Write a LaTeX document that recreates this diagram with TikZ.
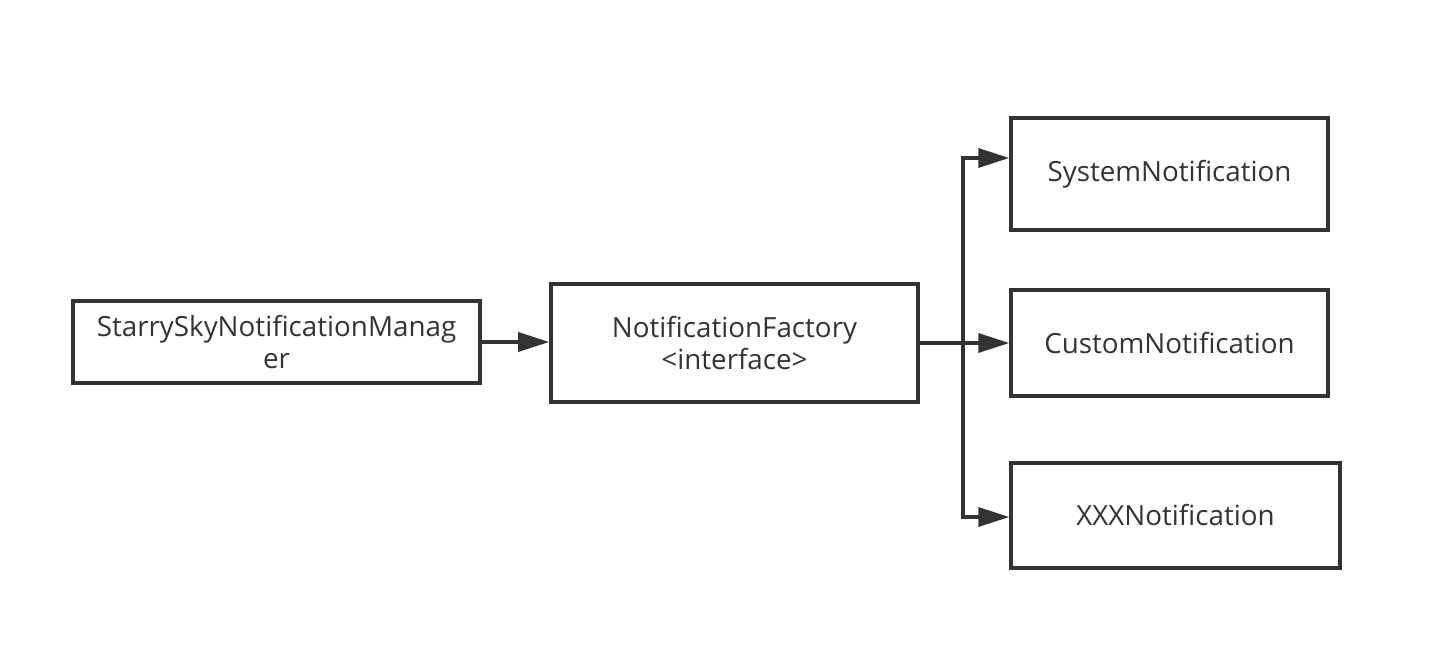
\documentclass[tikz,border=0pt]{standalone}
\usepackage{fontspec}
\setmainfont{Open Sans}
\usetikzlibrary{arrows.meta}
\definecolor{linegray}{HTML}{333333}
\begin{document}
\begin{tikzpicture}
        [box/.style={rectangle, draw=linegray, line width=2pt, align=center, text=linegray,
            font=\fontsize{15.8}{18.5}\selectfont, inner sep=0pt},
        link/.style={draw=linegray, line width=2pt, -{Triangle[length=0.62cm,width=0.38cm]}}]
        \useasboundingbox (0,0) rectangle (28.72,13.24);
        \node[box, minimum width=8.14cm, minimum height=1.64cm] (mgr) at (5.53,6.4) {StarrySkyNotificationManag\\er};
        \node[box, minimum width=7.34cm, minimum height=2.36cm] (fac) at (14.69,6.38) {NotificationFactory\\<interface>};
        \node[box, minimum width=6.34cm, minimum height=2.24cm] (sys) at (23.39,9.76) {SystemNotification};
        \node[box, minimum width=6.34cm, minimum height=2.12cm] (cus) at (23.39,6.38) {CustomNotification};
        \node[box, minimum width=6.58cm, minimum height=2.1cm] (xxx) at (23.51,2.93) {XXXNotification};
        \coordinate (split) at (19.26,6.38);
        
        \draw[link] (mgr.east) -- (mgr.east -| fac.west);
        \draw[line width=2pt, draw=linegray] (fac.east) -- (split);
        \draw[link] (split) |- ([yshift=0.32cm]sys.west);
        \draw[link] (split) -- (cus.west);
        \draw[link] (split) |- ([yshift=-0.03cm]xxx.west);
    
    \end{tikzpicture}
\end{document}
